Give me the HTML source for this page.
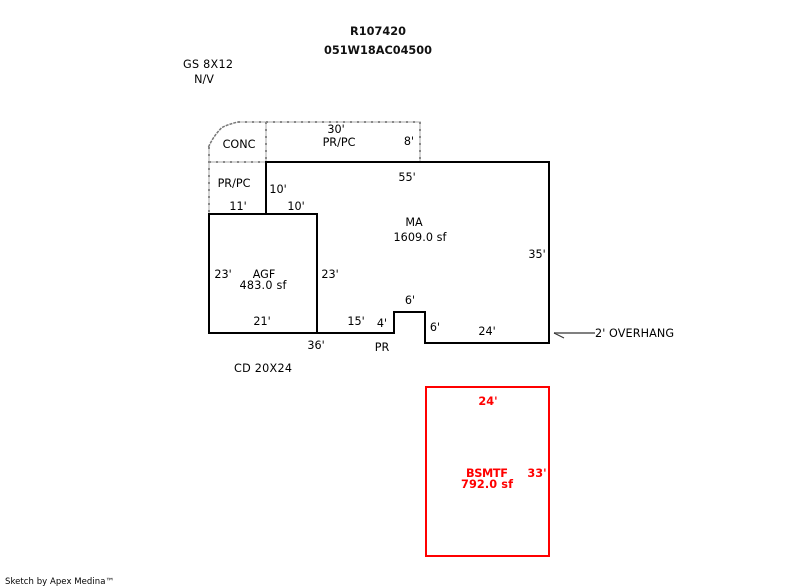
<!DOCTYPE html>
<html><head><meta charset="utf-8"><style>
html,body{margin:0;padding:0;background:#fff}
svg{display:block}
text{font-family:"DejaVu Sans",sans-serif;font-size:11.2px;fill:#000;text-anchor:middle}
.b{font-weight:bold;font-size:11.300px;fill:#111}
.r{fill:#f00;font-weight:bold;font-size:11.300px}
.l{fill:none;stroke:#d4d4d4;stroke-width:2}
.d{fill:none;stroke:#888;stroke-width:2;stroke-dasharray:2 5}
.c{fill:none;stroke:#777;stroke-width:1.500;stroke-dasharray:3 1}
</style></head><body>
<svg width="800" height="587" viewBox="0 0 800 587" xmlns="http://www.w3.org/2000/svg">
<g shape-rendering="crispEdges">
<path class="l" d="M238 122H420V162M266 122V162M209 162H266M209 147V214"/>
<path class="d" d="M238 122H420V162M266 122V162M209 162H266M209 147V214"/>
</g>
<path class="c" d="M208.500 147Q214 135 222 127.500Q229 124 238 122"/>
<g fill="none" stroke="#000" stroke-width="2" shape-rendering="crispEdges">
<path d="M266 214V162H549V343H425V312H394V333H209V214H317V333"/>
</g>
<rect x="426" y="387" width="123" height="169" fill="none" stroke="#f00" stroke-width="2" shape-rendering="crispEdges"/>
<path d="M554 333H595" stroke="#808080" stroke-width="2" fill="none" shape-rendering="crispEdges"/>
<path d="M554 333L564 338" stroke="#333" stroke-width="1" fill="none"/>
<text class="b" x="378" y="35" textLength="56">R107420</text>
<text class="b" x="378" y="54" textLength="108">051W18AC04500</text>
<text x="208" y="68" textLength="50">GS 8X12</text>
<text x="204" y="83">N/V</text>
<text x="336" y="133">30'</text>
<text x="339" y="146">PR/PC</text>
<text x="409" y="145">8'</text>
<text x="239" y="148">CONC</text>
<text x="407" y="181">55'</text>
<text x="234" y="187">PR/PC</text>
<text x="278" y="193">10'</text>
<text x="238" y="210">11'</text>
<text x="296" y="210">10'</text>
<text x="414" y="226">MA</text>
<text x="420" y="241" textLength="53">1609.0 sf</text>
<text x="537" y="258">35'</text>
<text x="223" y="278">23'</text>
<text x="264" y="278">AGF</text>
<text x="263" y="289" textLength="47">483.0 sf</text>
<text x="330" y="278">23'</text>
<text x="410" y="304">6'</text>
<text x="262" y="325">21'</text>
<text x="356" y="325">15'</text>
<text x="382" y="327">4'</text>
<text x="435" y="331">6'</text>
<text x="487" y="335">24'</text>
<text x="316" y="349">36'</text>
<text x="382" y="351">PR</text>
<text x="263" y="372" textLength="58">CD 20X24</text>
<text x="634.500" y="337" textLength="79">2' OVERHANG</text>
<text class="r" x="488" y="405">24'</text>
<text class="r" x="487" y="477" textLength="42">BSMTF</text>
<text class="r" x="537" y="477">33'</text>
<text class="r" x="487" y="488" textLength="52">792.0 sf</text>
<text x="59.500" y="584" style="font-size:8.500px" textLength="109">Sketch by Apex Medina™</text>
</svg>
</body></html>
